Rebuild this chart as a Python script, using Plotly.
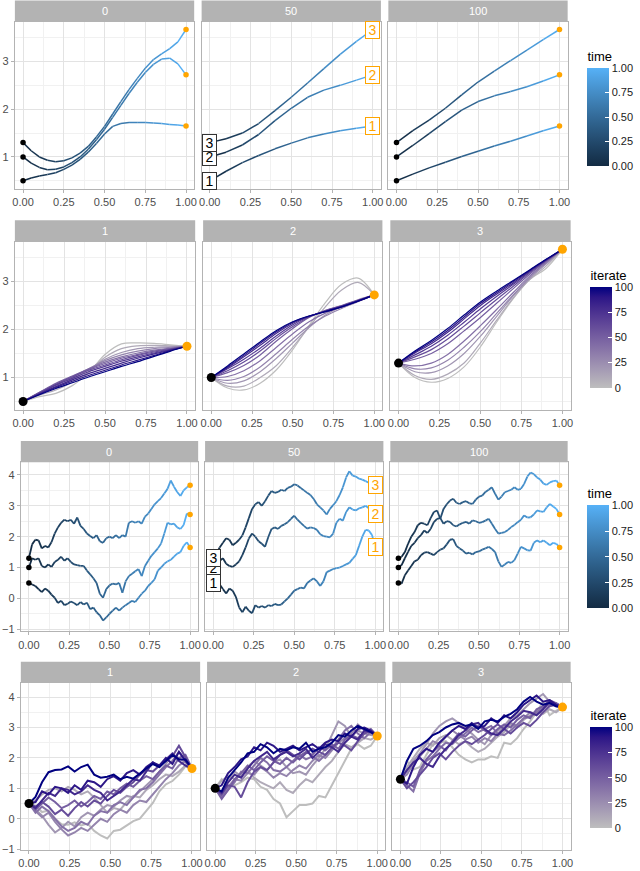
import plotly.graph_objects as go

# ---------------- data ----------------
T11 = [0.0, 0.1, 0.2, 0.3, 0.4, 0.5, 0.6, 0.7, 0.8, 0.9, 1.0]
T21 = [0.0, 0.05, 0.1, 0.15, 0.2, 0.25, 0.3, 0.35, 0.4, 0.45, 0.5,
       0.55, 0.6, 0.65, 0.7, 0.75, 0.8, 0.85, 0.9, 0.95, 1.0]
T26 = [0.0, 0.04, 0.08, 0.12, 0.16, 0.2, 0.24, 0.28, 0.32, 0.36, 0.4, 0.44, 0.48,
       0.52, 0.56, 0.6, 0.64, 0.68, 0.72, 0.76, 0.8, 0.84, 0.88, 0.92, 0.96, 1.0]
T51 = [0.0, 0.02, 0.04, 0.06, 0.08, 0.1, 0.12, 0.14, 0.16, 0.18,
       0.2, 0.22, 0.24, 0.26, 0.28, 0.3, 0.32, 0.34, 0.36, 0.38,
       0.4, 0.42, 0.44, 0.46, 0.48, 0.5, 0.52, 0.54, 0.56, 0.58,
       0.6, 0.62, 0.64, 0.66, 0.68, 0.7, 0.72, 0.74, 0.76, 0.78,
       0.8, 0.82, 0.84, 0.86, 0.88, 0.9, 0.92, 0.94, 0.96, 0.98, 1.0]

TIME_FACETS = ["0", "50", "100"]
ROUTE_FACETS = ["1", "2", "3"]
ITERATES = [0, 10, 20, 30, 40, 50, 60, 70, 80, 90, 100]
ITERATES_RW = [0, 10, 20, 30, 40, 50, 60, 80, 90, 100]
TIME_TICKS = [0, 0.25, 0.5, 0.75, 1.0]
TIME_LABELS = ["0.00", "0.25", "0.50", "0.75", "1.00"]
ITER_TICKS = [0, 25, 50, 75, 100]
ITER_LABELS = ["0", "25", "50", "75", "100"]

# smooth paths, by iterate (row 1)
SMOOTH_IT0 = [
    [0.50, 0.56, 0.60, 0.63, 0.67, 0.74, 0.83, 0.95, 1.10, 1.28, 1.48,
     1.64, 1.70, 1.72, 1.72, 1.72, 1.71, 1.70, 1.68, 1.67, 1.65],
    [1.00, 0.87, 0.78, 0.73, 0.74, 0.79, 0.88, 1.00, 1.16, 1.36, 1.58,
     1.83, 2.08, 2.33, 2.56, 2.77, 2.94, 3.05, 3.07, 2.95, 2.72],
    [1.30, 1.13, 1.00, 0.93, 0.90, 0.92, 0.98, 1.08, 1.22, 1.42, 1.64,
     1.90, 2.16, 2.41, 2.64, 2.86, 3.04, 3.16, 3.27, 3.41, 3.67],
]
SMOOTH_IT50 = [
    [0.50, 0.70, 0.88, 1.03, 1.17, 1.29, 1.40, 1.48, 1.55, 1.60, 1.65],
    [1.00, 1.10, 1.25, 1.47, 1.76, 2.02, 2.25, 2.40, 2.50, 2.61, 2.72],
    [1.30, 1.38, 1.50, 1.70, 1.97, 2.25, 2.55, 2.85, 3.15, 3.42, 3.67],
]
SMOOTH_IT100 = [
    [0.50, 0.64, 0.77, 0.89, 1.01, 1.12, 1.23, 1.33, 1.44, 1.55, 1.65],
    [1.00, 1.24, 1.49, 1.74, 1.98, 2.16, 2.28, 2.37, 2.47, 2.59, 2.72],
    [1.30, 1.55, 1.77, 2.02, 2.30, 2.57, 2.80, 3.02, 3.24, 3.46, 3.67],
]

# smooth paths, by route (row 2), one list per iterate
SMOOTH_ROUTE1 = [
    [0.50, 0.60, 0.67, 0.83, 1.10, 1.48, 1.70, 1.72, 1.71, 1.68, 1.65],
    [0.50, 0.63, 0.74, 0.90, 1.12, 1.42, 1.60, 1.66, 1.67, 1.66, 1.65],
    [0.50, 0.66, 0.80, 0.96, 1.16, 1.38, 1.52, 1.60, 1.63, 1.64, 1.65],
    [0.50, 0.68, 0.84, 1.00, 1.18, 1.35, 1.47, 1.55, 1.60, 1.63, 1.65],
    [0.50, 0.69, 0.86, 1.02, 1.18, 1.32, 1.43, 1.51, 1.57, 1.61, 1.65],
    [0.50, 0.69, 0.88, 1.03, 1.17, 1.29, 1.40, 1.48, 1.55, 1.60, 1.65],
    [0.50, 0.68, 0.86, 1.01, 1.15, 1.26, 1.37, 1.46, 1.53, 1.59, 1.65],
    [0.50, 0.67, 0.84, 0.98, 1.12, 1.23, 1.34, 1.43, 1.51, 1.58, 1.65],
    [0.50, 0.66, 0.81, 0.95, 1.08, 1.19, 1.30, 1.40, 1.49, 1.57, 1.65],
    [0.50, 0.65, 0.79, 0.92, 1.04, 1.15, 1.26, 1.36, 1.46, 1.56, 1.65],
    [0.50, 0.64, 0.77, 0.89, 1.01, 1.12, 1.23, 1.33, 1.44, 1.55, 1.65],
]
SMOOTH_ROUTE2 = [
    [1.00, 0.78, 0.74, 0.88, 1.16, 1.58, 2.08, 2.56, 2.94, 3.07, 2.72],
    [1.00, 0.82, 0.82, 1.00, 1.25, 1.63, 2.05, 2.47, 2.82, 2.98, 2.72],
    [1.00, 0.88, 0.93, 1.12, 1.40, 1.72, 2.04, 2.30, 2.48, 2.62, 2.72],
    [1.00, 0.94, 1.02, 1.22, 1.50, 1.80, 2.07, 2.28, 2.44, 2.58, 2.72],
    [1.00, 1.02, 1.14, 1.35, 1.63, 1.91, 2.16, 2.34, 2.47, 2.60, 2.72],
    [1.00, 1.10, 1.25, 1.47, 1.76, 2.02, 2.25, 2.40, 2.50, 2.61, 2.72],
    [1.00, 1.14, 1.32, 1.55, 1.82, 2.06, 2.26, 2.39, 2.49, 2.60, 2.72],
    [1.00, 1.18, 1.38, 1.61, 1.87, 2.10, 2.27, 2.38, 2.48, 2.60, 2.72],
    [1.00, 1.20, 1.43, 1.67, 1.92, 2.13, 2.27, 2.38, 2.48, 2.59, 2.72],
    [1.00, 1.22, 1.46, 1.71, 1.95, 2.15, 2.28, 2.37, 2.47, 2.59, 2.72],
    [1.00, 1.24, 1.49, 1.74, 1.98, 2.16, 2.28, 2.37, 2.47, 2.59, 2.72],
]
SMOOTH_ROUTE3 = [
    [1.30, 1.00, 0.90, 0.98, 1.22, 1.64, 2.16, 2.64, 3.04, 3.27, 3.67],
    [1.30, 1.04, 0.96, 1.07, 1.30, 1.72, 2.20, 2.66, 3.04, 3.32, 3.67],
    [1.30, 1.12, 1.10, 1.24, 1.50, 1.86, 2.28, 2.70, 3.06, 3.36, 3.67],
    [1.30, 1.18, 1.20, 1.36, 1.63, 1.96, 2.34, 2.72, 3.08, 3.38, 3.67],
    [1.30, 1.24, 1.30, 1.48, 1.76, 2.08, 2.42, 2.77, 3.11, 3.40, 3.67],
    [1.30, 1.38, 1.50, 1.70, 1.97, 2.25, 2.55, 2.85, 3.15, 3.42, 3.67],
    [1.30, 1.43, 1.58, 1.80, 2.07, 2.35, 2.63, 2.90, 3.18, 3.43, 3.67],
    [1.30, 1.47, 1.65, 1.88, 2.15, 2.43, 2.69, 2.94, 3.20, 3.44, 3.67],
    [1.30, 1.51, 1.70, 1.94, 2.22, 2.50, 2.74, 2.97, 3.22, 3.45, 3.67],
    [1.30, 1.53, 1.74, 1.98, 2.26, 2.54, 2.77, 3.00, 3.23, 3.45, 3.67],
    [1.30, 1.55, 1.77, 2.02, 2.30, 2.57, 2.80, 3.02, 3.24, 3.46, 3.67],
]

# random-walk paths, by iterate (row 3)
RW_IT0 = [
    [0.50, 0.45, 0.40, 0.30, 0.20, 0.32, 0.25, 0.12, 0.02, -0.15,
     -0.08, -0.22, -0.18, -0.10, -0.15, -0.22, -0.12, -0.20, -0.14, -0.35,
     -0.30, -0.45, -0.55, -0.72, -0.62, -0.50, -0.40, -0.30, -0.40, -0.30,
     -0.22, -0.15, -0.08, -0.12, 0.02, 0.15, 0.25, 0.40, 0.50, 0.62,
     0.90, 1.00, 1.12, 1.20, 1.25, 1.35, 1.45, 1.50, 1.70, 1.82, 1.65],
    [1.00, 1.30, 1.25, 1.30, 1.05, 1.00, 1.10, 1.02, 1.18, 1.25,
     1.35, 1.22, 1.30, 1.18, 1.10, 1.08, 1.05, 1.05, 0.90, 0.78,
     0.65, 0.50, 0.15, 0.02, 0.30, 0.42, 0.48, 0.45, 0.50, 0.18,
     0.55, 0.72, 0.80, 0.88, 0.95, 0.72, 1.05, 1.22, 1.38, 1.50,
     1.62, 1.78, 2.10, 2.45, 2.40, 2.42, 2.30, 2.25, 2.38, 2.75, 2.72],
    [1.30, 1.75, 1.90, 1.88, 1.62, 1.70, 1.65, 1.82, 2.10, 2.30,
     2.45, 2.55, 2.50, 2.55, 2.42, 2.62, 2.35, 2.25, 2.10, 2.02,
     1.95, 2.05, 1.85, 1.80, 1.95, 2.00, 1.95, 2.05, 1.95, 2.05,
     2.00, 2.45, 2.50, 2.45, 2.50, 2.42, 2.65, 2.75, 2.90, 3.05,
     3.15, 3.25, 3.40, 3.55, 3.82, 3.62, 3.45, 3.32, 3.50, 3.60, 3.67],
]
RW_IT50 = [
    [0.50, 0.55, 0.45, 0.30, 0.16, 0.32, 0.25, 0.05, -0.30, -0.45,
     -0.27, -0.40, -0.48, -0.22, -0.30, -0.25, -0.30, -0.22, -0.25, -0.18,
     -0.22, -0.20, -0.10, 0.00, 0.12, 0.25, 0.30, 0.35, 0.32, 0.50,
     0.58, 0.65, 0.55, 0.40, 0.55, 0.85, 0.90, 0.95, 0.98, 1.00,
     1.05, 1.10, 1.15, 1.28, 1.40, 1.70, 2.00, 2.22, 2.20, 2.05, 1.65],
    [1.00, 1.10, 1.22, 1.30, 1.12, 1.05, 1.02, 1.10, 1.20, 1.40,
     1.65, 1.94, 2.10, 2.00, 1.85, 1.77, 1.67, 1.99, 2.25, 2.30,
     2.25, 2.35, 2.40, 2.47, 2.58, 2.68, 2.55, 2.45, 2.35, 2.26,
     2.30, 2.28, 2.22, 2.08, 2.02, 2.00, 1.98, 2.10, 2.45, 2.58,
     2.52, 2.80, 2.95, 2.88, 2.85, 2.92, 2.95, 3.00, 2.92, 2.80, 2.72],
    [1.30, 1.45, 1.65, 1.80, 1.95, 1.90, 1.72, 1.80, 1.90, 2.04,
     2.30, 2.60, 2.90, 3.05, 3.12, 3.00, 3.15, 3.33, 3.48, 3.42,
     3.45, 3.52, 3.48, 3.58, 3.62, 3.70, 3.66, 3.58, 3.50, 3.42,
     3.35, 3.22, 3.05, 2.95, 2.85, 2.72, 2.90, 3.02, 3.15, 3.35,
     3.60, 3.92, 4.12, 3.98, 3.95, 3.88, 3.85, 3.80, 3.75, 3.70, 3.67],
]
RW_IT100 = [
    [0.50, 0.48, 0.75, 0.90, 1.05, 1.20, 1.25, 1.40, 1.48, 1.50,
     1.45, 1.40, 1.50, 1.58, 1.62, 1.75, 1.90, 1.92, 1.70, 1.62,
     1.55, 1.45, 1.48, 1.42, 1.50, 1.52, 1.58, 1.62, 1.67, 1.60,
     1.50, 1.20, 1.02, 1.10, 1.18, 1.15, 1.24, 1.45, 1.67, 1.62,
     1.56, 1.55, 1.80, 1.88, 1.82, 1.88, 1.80, 1.72, 1.80, 1.77, 1.65],
    [1.00, 1.08, 1.30, 1.51, 1.70, 1.80, 1.95, 2.05, 2.20, 2.12,
     2.25, 2.47, 2.58, 2.60, 2.42, 2.50, 2.48, 2.37, 2.33, 2.40,
     2.45, 2.48, 2.42, 2.53, 2.50, 2.45, 2.47, 2.52, 2.58, 2.42,
     2.25, 2.10, 2.12, 2.15, 2.22, 2.31, 2.38, 2.47, 2.55, 2.69,
     2.62, 2.63, 2.72, 2.85, 2.82, 2.80, 2.95, 3.06, 2.98, 2.90, 2.72],
    [1.30, 1.35, 1.50, 1.77, 2.00, 2.15, 2.37, 2.45, 2.42, 2.37,
     2.60, 2.80, 2.85, 2.58, 2.90, 3.05, 3.17, 3.23, 3.10, 3.06,
     3.12, 3.15, 3.08, 3.06, 3.20, 3.30, 3.33, 3.45, 3.52, 3.60,
     3.39, 3.20, 3.30, 3.44, 3.48, 3.52, 3.60, 3.52, 3.55, 3.71,
     3.95, 4.08, 4.03, 3.92, 3.85, 3.72, 3.68, 3.76, 3.80, 3.82, 3.67],
]

# random-walk paths, by route (row 4), one list per iterate in ITERATES_RW
RW_ROUTE1 = [
    [0.5, 0.43, 0.22, 0.27, 0.0, -0.18, -0.2, -0.12, -0.22, -0.16, -0.4, -0.55, -0.65,
     -0.4, -0.36, -0.22, -0.08, 0.0, 0.25, 0.52, 0.9, 1.13, 1.24, 1.45, 1.72, 1.65],
    [0.5, 0.6, 0.8, 0.95, 1.0, 0.9, 1.05, 0.95, 0.8, 0.9, 0.7, 0.45, 0.2,
     0.35, 0.3, 0.55, 0.75, 0.7, 0.95, 1.1, 1.3, 1.45, 1.4, 1.55, 1.75, 1.65],
    [0.5, 0.3, 0.1, -0.2, -0.45, -0.3, -0.1, -0.25, 0.05, 0.2, 0.1, 0.3, 0.45,
     0.4, 0.6, 0.75, 0.7, 0.9, 1.1, 1.3, 1.55, 1.8, 2.1, 2.0, 1.85, 1.65],
    [0.5, 0.25, 0.05, 0.2, -0.1, -0.35, -0.55, -0.45, -0.3, -0.4, -0.2, 0.0, -0.1,
     0.15, 0.3, 0.2, 0.45, 0.6, 0.55, 0.8, 1.05, 1.3, 1.5, 1.75, 1.9, 1.65],
    [0.5, 0.2, 0.4, 0.25, 0.0, -0.25, -0.4, -0.3, -0.1, -0.2, 0.1, 0.25, 0.2,
     0.45, 0.55, 0.45, 0.7, 0.95, 1.0, 1.2, 1.45, 1.7, 1.9, 2.2, 1.95, 1.65],
    [0.5, 0.3, 0.5, 0.7, 0.55, 0.35, 0.45, 0.6, 0.4, 0.55, 0.75, 0.65, 0.9,
     0.8, 1.0, 1.15, 1.05, 1.25, 1.4, 1.3, 1.55, 1.75, 1.65, 2.0, 2.1, 1.65],
    [0.5, 0.4, 0.55, 0.4, 0.15, 0.3, 0.1, 0.35, 0.55, 0.4, 0.6, 0.5, 0.75,
     0.95, 0.85, 1.05, 1.2, 1.45, 1.6, 1.55, 1.75, 1.9, 2.05, 2.4, 2.0, 1.65],
    [0.5, 0.35, 0.6, 0.85, 0.75, 1.0, 0.95, 0.8, 0.9, 1.1, 0.95, 0.85, 0.6,
     0.75, 0.9, 1.1, 1.3, 1.25, 1.55, 1.85, 1.7, 1.95, 2.15, 1.9, 1.75, 1.65],
    [0.5, 0.55, 0.9, 0.8, 1.05, 1.0, 0.85, 1.1, 0.95, 1.25, 1.2, 1.05, 1.3,
     1.4, 1.25, 1.5, 1.6, 1.45, 1.7, 1.85, 1.75, 2.0, 1.8, 2.2, 1.9, 1.65],
    [0.5, 0.72, 1.2, 1.53, 1.6, 1.62, 1.72, 1.55, 1.7, 1.78, 1.45, 1.35, 1.38,
     1.45, 1.3, 1.38, 1.32, 1.5, 1.65, 1.8, 1.7, 1.9, 2.1, 1.95, 1.95, 1.65],
]
RW_ROUTE2 = [
    [1.0, 1.3, 1.05, 1.1, 1.2, 1.35, 1.3, 1.05, 0.95, 0.65, 0.5, 0.05, 0.25,
     0.45, 0.45, 0.5, 0.75, 0.7, 1.1, 1.5, 1.85, 2.3, 2.45, 2.3, 2.4, 2.72],
    [1.0, 1.25, 1.4, 1.3, 1.45, 1.6, 1.35, 1.2, 1.1, 1.0, 1.2, 0.95, 0.85,
     1.1, 1.3, 1.2, 1.45, 1.7, 1.9, 2.2, 2.45, 2.35, 2.5, 2.65, 2.6, 2.72],
    [1.0, 0.9, 1.3, 1.55, 1.4, 1.7, 1.9, 1.75, 1.6, 1.85, 1.95, 1.7, 1.5,
     1.55, 1.45, 1.75, 2.0, 2.3, 2.75, 3.2, 3.05, 2.7, 2.9, 2.8, 2.75, 2.72],
    [1.0, 0.75, 1.05, 1.3, 1.25, 1.5, 1.45, 1.7, 1.55, 1.35, 1.5, 1.4, 1.6,
     1.75, 1.65, 1.9, 2.1, 2.0, 2.25, 2.5, 2.65, 2.8, 3.1, 2.9, 2.8, 2.72],
    [1.0, 0.7, 0.95, 1.2, 1.55, 1.5, 1.75, 2.0, 1.85, 1.6, 1.55, 1.7, 1.9,
     2.1, 1.95, 2.05, 1.9, 2.1, 2.3, 2.6, 2.9, 3.05, 2.8, 2.65, 2.85, 2.72],
    [1.0, 0.65, 0.95, 1.3, 1.5, 1.75, 1.6, 1.85, 2.05, 1.9, 1.8, 2.0, 1.85,
     2.05, 2.2, 2.1, 2.35, 2.25, 2.45, 2.3, 2.6, 2.75, 2.65, 2.85, 2.95, 2.72],
    [1.0, 0.8, 1.1, 1.05, 0.7, 1.2, 1.55, 1.7, 1.6, 1.85, 2.1, 2.25, 2.1,
     1.95, 2.15, 2.3, 2.2, 2.1, 2.35, 2.5, 2.4, 2.25, 2.55, 2.8, 2.9, 2.72],
    [1.0, 0.85, 1.2, 1.45, 1.35, 1.65, 1.9, 2.05, 2.2, 1.95, 2.1, 2.2, 2.05,
     2.15, 2.3, 2.0, 2.2, 2.45, 2.35, 2.2, 2.5, 2.7, 2.6, 2.9, 2.85, 2.72],
    [1.0, 1.1, 1.5, 1.7, 1.95, 2.05, 2.35, 2.25, 2.5, 2.4, 2.2, 2.3, 2.4,
     2.25, 2.35, 2.45, 2.3, 2.5, 2.6, 2.55, 2.8, 2.7, 2.95, 3.0, 2.9, 2.72],
    [1.0, 0.9, 1.35, 1.6, 1.85, 2.15, 2.2, 2.45, 2.35, 2.15, 2.3, 2.25, 2.35,
     2.3, 2.5, 2.2, 2.3, 2.35, 2.5, 2.75, 2.7, 2.9, 3.05, 2.95, 2.85, 2.72],
]
RW_ROUTE3 = [
    [1.3, 1.9, 1.62, 1.7, 2.1, 2.45, 2.5, 2.55, 2.35, 2.1, 1.95, 1.85, 1.95,
     1.95, 2.05, 2.0, 2.5, 2.45, 2.65, 2.95, 3.2, 3.5, 3.85, 3.4, 3.55, 3.67],
    [1.3, 1.7, 2.0, 2.3, 2.5, 2.4, 2.65, 2.75, 2.6, 2.45, 2.55, 2.35, 2.2,
     2.3, 2.5, 2.7, 2.85, 3.1, 3.0, 3.25, 3.4, 3.55, 3.45, 3.6, 3.5, 3.67],
    [1.3, 1.55, 1.9, 2.15, 2.45, 2.8, 3.05, 3.2, 3.3, 3.15, 2.95, 2.8, 2.6,
     2.45, 2.75, 2.9, 3.05, 3.3, 3.4, 3.6, 3.8, 3.95, 4.1, 3.85, 3.75, 3.67],
    [1.3, 1.45, 1.8, 2.05, 2.3, 2.55, 2.45, 2.7, 2.9, 2.75, 2.6, 2.7, 2.5,
     2.65, 2.55, 2.8, 3.0, 3.15, 3.05, 3.3, 3.5, 3.45, 3.7, 3.85, 3.75, 3.67],
    [1.3, 1.1, 0.9, 1.5, 1.9, 2.05, 2.3, 2.5, 2.45, 2.65, 2.8, 3.0, 2.85,
     2.95, 3.05, 2.8, 2.75, 2.9, 3.1, 3.3, 3.35, 3.5, 3.65, 3.75, 3.8, 3.67],
    [1.3, 1.2, 1.05, 1.6, 1.95, 2.2, 2.4, 2.25, 2.55, 2.8, 2.7, 2.9, 3.05,
     2.9, 2.75, 2.95, 3.1, 3.0, 3.25, 3.4, 3.3, 3.6, 3.7, 3.9, 3.8, 3.67],
    [1.3, 1.0, 1.2, 1.45, 1.7, 2.0, 2.15, 1.95, 2.2, 2.4, 2.55, 2.45, 2.6,
     2.75, 2.95, 3.1, 2.95, 2.8, 3.0, 3.15, 3.05, 3.25, 3.5, 3.7, 3.75, 3.67],
    [1.3, 1.6, 1.85, 2.0, 1.8, 1.7, 2.05, 2.3, 2.5, 2.75, 2.9, 3.1, 3.15,
     2.95, 2.8, 2.75, 2.95, 3.2, 3.35, 3.55, 3.5, 3.4, 3.6, 3.85, 3.7, 3.67],
    [1.3, 1.15, 1.7, 2.1, 2.3, 2.2, 2.5, 2.7, 2.9, 3.05, 2.95, 3.15, 3.0,
     3.05, 3.3, 3.15, 3.4, 3.3, 3.5, 3.75, 3.9, 4.05, 3.85, 3.9, 3.75, 3.67],
    [1.3, 1.9, 2.3, 2.4, 2.55, 2.75, 2.85, 3.0, 3.1, 3.15, 3.05, 3.1, 2.95,
     3.2, 3.25, 3.2, 3.35, 3.45, 3.6, 3.85, 4.0, 3.85, 3.75, 3.8, 3.7, 3.67],
]

# ---------------- colours (ggplot interpolates in Lab) ----------------
TIME_LOW, TIME_HIGH = "#132B43", "#56B1F7"
ITER_LOW, ITER_HIGH = "#BEBEBE", "#000080"


def _lin(c):
    c = c / 255
    return ((c + 0.055) / 1.055) ** 2.4 if c > 0.04045 else c / 12.92


def hex_to_lab(h):
    r, g, b = [_lin(int(h[i:i + 2], 16)) for i in (1, 3, 5)]
    X = (0.4124 * r + 0.3576 * g + 0.1805 * b) / 0.95047
    Y = 0.2126 * r + 0.7152 * g + 0.0722 * b
    Z = (0.0193 * r + 0.1192 * g + 0.9505 * b) / 1.08883
    f = lambda t: t ** (1 / 3) if t > 0.008856 else 7.787 * t + 16 / 116
    fx, fy, fz = f(X), f(Y), f(Z)
    return 116 * fy - 16, 500 * (fx - fy), 200 * (fy - fz)


def lab_to_hex(L, a, b):
    fy = (L + 16) / 116
    fx, fz = fy + a / 500, fy - b / 200
    finv = lambda t: t ** 3 if t ** 3 > 0.008856 else (t - 16 / 116) / 7.787
    X, Y, Z = 0.95047 * finv(fx), finv(fy), 1.08883 * finv(fz)
    r = 3.2406 * X - 1.5372 * Y - 0.4986 * Z
    g = -0.9689 * X + 1.8758 * Y + 0.0415 * Z
    bl = 0.0557 * X - 0.2040 * Y + 1.0570 * Z

    def gam(c):
        c = min(max(c, 0), 1)
        return 1.055 * c ** (1 / 2.4) - 0.055 if c > 0.0031308 else 12.92 * c
    return "#%02x%02x%02x" % tuple(round(gam(c) * 255) for c in (r, g, bl))


def grad(low, high, f):
    l1, l2 = hex_to_lab(low), hex_to_lab(high)
    return lab_to_hex(*[p + (q - p) * f for p, q in zip(l1, l2)])


def colorscale(low, high):
    return [[i / 10, grad(low, high, i / 10)] for i in range(11)]


# ---------------- layout geometry ----------------
W, H = 640, 871
FONT = "Liberation Sans, Arial, sans-serif"
ROWS = [
    dict(y=(22, 190), cols=[(12, 193), (200.5, 381.5), (389, 570)], yr=[0.33, 3.83],
         yt=[1, 2, 3], ym=[0.5, 1.5, 2.5, 3.5]),
    dict(y=(243, 412), cols=[(12, 194), (202, 383), (391, 573)], yr=[0.33, 3.83],
         yt=[1, 2, 3], ym=[0.5, 1.5, 2.5, 3.5]),
    dict(y=(465, 635), cols=[(18, 197), (204, 384), (391, 570)], yr=[-1.07, 4.41],
         yt=[-1, 0, 1, 2, 3, 4], ym=[-0.5, 0.5, 1.5, 2.5, 3.5]),
    dict(y=(687, 855), cols=[(18, 199), (206, 386), (393, 573)], yr=[-1.03, 4.46],
         yt=[-1, 0, 1, 2, 3, 4], ym=[-0.5, 0.5, 1.5, 2.5, 3.5]),
]
STRIP_LABELS = [TIME_FACETS, ROUTE_FACETS, TIME_FACETS, ROUTE_FACETS]

fig = go.Figure()
layout = {}
shapes, annotations = [], []


def sfx(k):
    return "" if k == 1 else str(k)


for r, row in enumerate(ROWS):
    y0, y1 = row["y"]
    for c, (x0, x1) in enumerate(row["cols"]):
        k = r * 3 + c + 1
        layout["xaxis" + sfx(k)] = dict(
            domain=[x0 / W, x1 / W], range=[-0.05, 1.05], anchor="y" + sfx(k),
            tickvals=TIME_TICKS, ticktext=TIME_LABELS,
            showgrid=True, gridcolor="#E3E3E3", gridwidth=1,
            minor=dict(tickvals=[0.125, 0.375, 0.625, 0.875], showgrid=True,
                       gridcolor="#F1F1F1", gridwidth=1, ticks=""),
            showline=True, mirror=True, linecolor="#B3B3B3", linewidth=1,
            ticks="outside", ticklen=3, tickcolor="#B3B3B3", zeroline=False,
            tickfont=dict(size=11, color="#4D4D4D", family=FONT), fixedrange=True)
        layout["yaxis" + sfx(k)] = dict(
            domain=[1 - y1 / H, 1 - y0 / H], range=row["yr"], anchor="x" + sfx(k),
            tickvals=row["yt"], ticktext=[("−%d" % -v) if v < 0 else str(v) for v in row["yt"]],
            showticklabels=(c == 0), ticks="outside" if c == 0 else "",
            ticklen=3, tickcolor="#B3B3B3",
            showgrid=True, gridcolor="#E3E3E3", gridwidth=1,
            minor=dict(tickvals=row["ym"], showgrid=True, gridcolor="#F1F1F1",
                       gridwidth=1, ticks=""),
            showline=True, mirror=True, linecolor="#B3B3B3", linewidth=1,
            zeroline=False, tickfont=dict(size=11, color="#4D4D4D", family=FONT),
            fixedrange=True)
        # facet strip
        shapes.append(dict(type="rect", xref="paper", yref="paper",
                           x0=x0 / W, x1=x1 / W, y0=1 - y0 / H, y1=1 - (y0 - 21.5) / H,
                           fillcolor="#B3B3B3", line=dict(width=0)))
        annotations.append(dict(xref="paper", yref="paper", x=(x0 + x1) / 2 / W,
                                y=1 - (y0 - 10.75) / H, text=STRIP_LABELS[r][c],
                                showarrow=False, font=dict(size=11, color="white", family=FONT),
                                xanchor="center", yanchor="middle"))


def add_time_gradient(k, t, paths, width, nbins=30):
    bins = [([], []) for _ in range(nbins)]
    for v in paths:
        for i in range(len(t) - 1):
            b = min(int((t[i] + t[i + 1]) / 2 * nbins), nbins - 1)
            bins[b][0].extend([t[i], t[i + 1], None])
            bins[b][1].extend([v[i], v[i + 1], None])
    for b, (xs, ys) in enumerate(bins):
        if xs:
            fig.add_trace(go.Scatter(
                x=xs, y=ys, mode="lines", xaxis="x" + sfx(k), yaxis="y" + sfx(k),
                line=dict(color=grad(TIME_LOW, TIME_HIGH, (b + 0.5) / nbins), width=width),
                showlegend=False, hoverinfo="skip"))


def add_ends(k, t, paths, size):
    fig.add_trace(go.Scatter(x=[t[0]] * len(paths), y=[p[0] for p in paths], mode="markers",
                             xaxis="x" + sfx(k), yaxis="y" + sfx(k),
                             marker=dict(color="black", size=size), showlegend=False,
                             hoverinfo="skip"))
    fig.add_trace(go.Scatter(x=[t[-1]] * len(paths), y=[p[-1] for p in paths], mode="markers",
                             xaxis="x" + sfx(k), yaxis="y" + sfx(k),
                             marker=dict(color="#FFA500", size=size), showlegend=False,
                             hoverinfo="skip"))


def add_labels(k, paths):
    for i in [1, 0, 2]:
        p = paths[i]
        annotations.append(dict(xref="x" + sfx(k), yref="y" + sfx(k), x=0, y=p[0],
                                text=str(i + 1), showarrow=False, bgcolor="white",
                                bordercolor="#333333", borderwidth=1, borderpad=0.5,
                                width=12, height=15,
                                font=dict(size=14, color="black", family=FONT)))
    for i in [0, 1, 2]:
        p = paths[i]
        annotations.append(dict(xref="x" + sfx(k), yref="y" + sfx(k), x=1, y=p[-1],
                                text=str(i + 1), showarrow=False, bgcolor="white",
                                bordercolor="#FFA500", borderwidth=1, borderpad=0.5,
                                width=12, height=15,
                                font=dict(size=14, color="#FFA500", family=FONT)))


def add_by_iterate(k, t, paths, iters, width, shape):
    for it, v in zip(iters, paths):
        fig.add_trace(go.Scatter(x=t, y=v, mode="lines", xaxis="x" + sfx(k), yaxis="y" + sfx(k),
                                 line=dict(color=grad(ITER_LOW, ITER_HIGH, it / 100),
                                           width=width, shape=shape),
                                 showlegend=False, hoverinfo="skip"))
    add_ends(k, t, paths[:1], 9)


# row 1: smooth paths by iterate, coloured by time
add_time_gradient(1, T21, SMOOTH_IT0, 1.5)
add_ends(1, T21, SMOOTH_IT0, 5.5)
add_time_gradient(2, T11, SMOOTH_IT50, 1.5)
add_labels(2, SMOOTH_IT50)
add_time_gradient(3, T11, SMOOTH_IT100, 1.5)
add_ends(3, T11, SMOOTH_IT100, 5.5)

# row 2: smooth paths by route, coloured by iterate
add_by_iterate(4, T11, SMOOTH_ROUTE1, ITERATES, 1.2, "spline")
add_by_iterate(5, T11, SMOOTH_ROUTE2, ITERATES, 1.2, "spline")
add_by_iterate(6, T11, SMOOTH_ROUTE3, ITERATES, 1.2, "spline")

# row 3: random walks by iterate, coloured by time
add_time_gradient(7, T51, RW_IT0, 1.8)
add_ends(7, T51, RW_IT0, 5.5)
add_time_gradient(8, T51, RW_IT50, 1.8)
add_labels(8, RW_IT50)
add_time_gradient(9, T51, RW_IT100, 1.8)
add_ends(9, T51, RW_IT100, 5.5)

# row 4: random walks by route, coloured by iterate
add_by_iterate(10, T26, RW_ROUTE1, ITERATES_RW, 2.0, "linear")
add_by_iterate(11, T26, RW_ROUTE2, ITERATES_RW, 2.0, "linear")
add_by_iterate(12, T26, RW_ROUTE3, ITERATES_RW, 2.0, "linear")


# colour bars (dummy traces outside the visible range); the title sits inside len
def add_colorbar(k, title, low, high, cmax, tickvals, ticktext, x_px, y_top, y_bot):
    fig.add_trace(go.Scatter(
        x=[-9, -9], y=[0, 0], mode="markers", xaxis="x" + sfx(k), yaxis="y" + sfx(k),
        marker=dict(color=[0, cmax], cmin=0, cmax=cmax, colorscale=colorscale(low, high),
                    showscale=True, size=1,
                    colorbar=dict(
                        title=dict(text=title, side="top",
                                   font=dict(size=13, color="black", family=FONT)),
                        x=x_px / W, xanchor="left", xpad=0, ypad=0,
                        y=1 - y_bot / H, yanchor="bottom",
                        len=y_bot - y_top + 16, lenmode="pixels",
                        thickness=22, thicknessmode="pixels", outlinewidth=0,
                        tickvals=tickvals, ticktext=ticktext, ticks="inside",
                        ticklen=4, tickcolor="white",
                        tickfont=dict(size=11, color="#1A1A1A", family=FONT))),
        showlegend=False, hoverinfo="skip"))


add_colorbar(1, "time", TIME_LOW, TIME_HIGH, 1, TIME_TICKS, TIME_LABELS, 590, 65, 167)
add_colorbar(4, "iterate", ITER_LOW, ITER_HIGH, 100, ITER_TICKS, ITER_LABELS, 593, 285, 390)
add_colorbar(7, "time", TIME_LOW, TIME_HIGH, 1, TIME_TICKS, TIME_LABELS, 590, 505, 612)
add_colorbar(10, "iterate", ITER_LOW, ITER_HIGH, 100, ITER_TICKS, ITER_LABELS, 593, 728, 833)

fig.update_layout(
    width=W, height=H, margin=dict(l=0, r=0, t=0, b=0),
    paper_bgcolor="white", plot_bgcolor="white",
    font=dict(family=FONT), hovermode=False,
    shapes=shapes, annotations=annotations, **layout)

# the page's default body margin would push the 640x871 figure out of the window
fig.write_html("out.html", config={"displayModeBar": False},
               post_script="document.body.style.margin='0';")
